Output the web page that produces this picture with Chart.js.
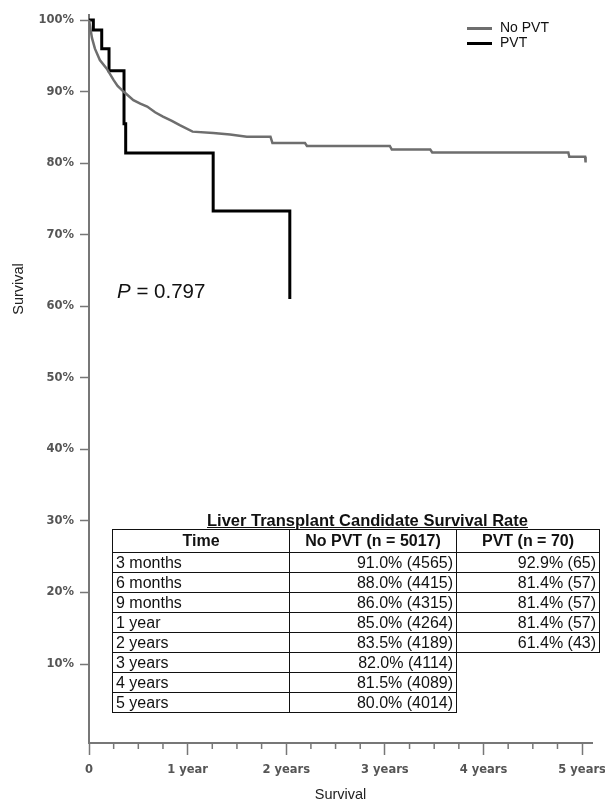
<!DOCTYPE html>
<html>
<head>
<meta charset="utf-8">
<script src="https://cdn.jsdelivr.net/npm/chart.js@4"></script>
<style>
  body { margin: 0; background: #fff; }
  #wrap { position: relative; width: 605px; height: 807px; }
  .ov { position: absolute; font-family: 'Liberation Sans', Arial, sans-serif; color: #111; white-space: nowrap; }
  #ytitle { left: 18px; top: 289px; font-size: 14.5px; transform: translate(-50%, -50%) rotate(-90deg); color: #222; }
  #legend { left: 467px; top: 20px; font-size: 14px; }
  #legend div { height: 15px; line-height: 15px; }
  #legend span.ln { display: inline-block; width: 25px; height: 3px; vertical-align: middle; margin-right: 8px; }
  #pval { left: 117px; top: 279px; font-size: 20.5px; }
  #ttitle { left: 207px; top: 511px; font-size: 16.5px; font-weight: bold; text-decoration: underline; }
  #tbl { left: 112px; top: 529px; border-collapse: collapse; font-size: 16px; }
  #tbl td, #tbl th { border: 1.5px solid #111; padding: 0 3px; height: 19px; line-height: 17px; }
  #tbl th { height: 21.5px; font-weight: bold; text-align: center; }
  #tbl td.num { text-align: right; }
  #tbl td.none { border: none; }
</style>
</head>
<body>
<div id="wrap">
  <canvas id="km" width="605" height="807"></canvas>
  <div class="ov" id="ytitle">Survival</div>
  <div class="ov" id="legend"></div>
  <div class="ov" id="pval"><i>P</i> = 0.797</div>
  <div class="ov" id="ttitle">Liver Transplant Candidate Survival Rate</div>
  <table class="ov" id="tbl"></table>
</div>
<script>
// survival curves, time in years, survival in %
const noPvtTime = [0, 0.03, 0.06, 0.11, 0.18, 0.25, 0.29, 0.35, 0.45, 0.52, 0.59, 0.67, 0.75, 0.84, 0.92, 1.05, 1.26, 1.43, 1.60, 1.84, 1.86, 2.19, 2.21, 3.05, 3.07, 3.46, 3.48, 4.86, 4.87, 5.03, 5.035];
const noPvtSurv = [100, 97.5, 96.0, 94.4, 93.2, 91.6, 90.8, 90.0, 88.8, 88.3, 87.9, 87.1, 86.5, 85.9, 85.3, 84.4, 84.2, 84.0, 83.7, 83.7, 82.8, 82.8, 82.4, 82.4, 81.9, 81.9, 81.5, 81.5, 80.9, 80.9, 80.1];
const pvtTime = [0, 0.044, 0.129, 0.203, 0.355, 0.372, 1.259, 2.036];
const pvtSurv = [100, 98.6, 96.0, 92.9, 85.5, 81.4, 73.3, 61.0];

const xTickValues = [0, 1, 2, 3, 4, 5];
const xTickLabels = ['0', '1 year', '2 years', '3 years', '4 years', '5 years'];
const yTickValues = [10, 20, 30, 40, 50, 60, 70, 80, 90, 100];
const yTickLabels = ['10%', '20%', '30%', '40%', '50%', '60%', '70%', '80%', '90%', '100%'];

// table
const tableHead = ['Time', 'No PVT (n = 5017)', 'PVT (n = 70)'];
const tableTimes = ['3 months', '6 months', '9 months', '1 year', '2 years', '3 years', '4 years', '5 years'];
const tableNoPvt = ['91.0% (4565)', '88.0% (4415)', '86.0% (4315)', '85.0% (4264)', '83.5% (4189)', '82.0% (4114)', '81.5% (4089)', '80.0% (4014)'];
const tablePvt = ['92.9% (65)', '81.4% (57)', '81.4% (57)', '81.4% (57)', '61.4% (43)'];

const series = [
  {label: 'No PVT', color: '#6e6e6e'},
  {label: 'PVT', color: '#000'}
];

// legend + table html
document.getElementById('legend').innerHTML = series.map(s =>
  '<div><span class="ln" style="background:' + s.color + '"></span>' + s.label + '</div>').join('');

let html = '<tr><th style="width:170px">' + tableHead[0] + '</th><th style="width:160px">' + tableHead[1] + '</th><th style="width:136px">' + tableHead[2] + '</th></tr>';
tableTimes.forEach((t, i) => {
  html += '<tr><td>' + t + '</td><td class="num">' + tableNoPvt[i] + '</td>';
  html += i < tablePvt.length ? '<td class="num">' + tablePvt[i] + '</td>' : '<td class="none"></td>';
  html += '</tr>';
});
document.getElementById('tbl').innerHTML = html;

const tickFont = {family: "'DejaVu Sans', sans-serif", size: 11.5, weight: 'bold'};

const minorTicks = {
  id: 'minorTicks',
  afterDraw(chart) {
    const xs = chart.scales.x, ctx = chart.ctx;
    ctx.save();
    ctx.strokeStyle = '#777';
    ctx.lineWidth = 1.5;
    for (let q = 1; q < 20; q++) {
      if (q % 4 === 0) continue;
      const px = xs.getPixelForValue(q / 4);
      ctx.beginPath();
      ctx.moveTo(px, xs.top);
      ctx.lineTo(px, xs.top + 6);
      ctx.stroke();
    }
    ctx.restore();
  }
};

const data = {
  datasets: [
    {
      label: series[0].label,
      data: noPvtTime.map((t, i) => ({x: t, y: noPvtSurv[i]})),
      borderColor: series[0].color,
      borderWidth: 2.5,
      pointRadius: 0,
      tension: 0
    },
    {
      label: series[1].label,
      data: pvtTime.map((t, i) => ({x: t, y: pvtSurv[i]})),
      borderColor: series[1].color,
      borderWidth: 3,
      pointRadius: 0,
      stepped: 'before',
      borderJoinStyle: 'miter'
    }
  ]
};

const config = {
  type: 'line',
  data: data,
  plugins: [minorTicks],
  options: {
    responsive: false,
    animation: false,
    layout: {padding: {left: 0, right: 13, top: 15, bottom: 0}},
    plugins: {
      legend: {display: false},
      tooltip: {enabled: false}
    },
    scales: {
      x: {
        type: 'linear',
        min: 0,
        max: 5.1,
        afterBuildTicks: s => { s.ticks = xTickValues.map(v => ({value: v})); },
        afterFit: s => { s.paddingLeft = 0; s.paddingRight = 0; s.height = 64; },
        ticks: {
          callback: (v, i) => xTickLabels[i],
          font: tickFont,
          color: '#555',
          padding: 8,
          maxRotation: 0,
          autoSkip: false
        },
        grid: {drawOnChartArea: false, tickLength: 12, tickColor: '#777', tickWidth: 1.5},
        border: {color: '#777', width: 2},
        title: {
          display: true,
          text: 'Survival',
          color: '#222',
          font: {family: "'Liberation Sans', Arial, sans-serif", size: 14.5},
          padding: {top: 3, bottom: 3}
        }
      },
      y: {
        min: -1.04,
        max: 100.7,
        afterBuildTicks: s => { s.ticks = yTickValues.map(v => ({value: v})); },
        afterFit: s => { s.width = 89; s.paddingTop = 0; s.paddingBottom = 0; },
        ticks: {
          callback: (v, i) => yTickLabels[i],
          font: tickFont,
          color: '#555',
          padding: 6
        },
        grid: {drawOnChartArea: false, tickLength: 9, tickColor: '#777', tickWidth: 1.5},
        border: {color: '#777', width: 2}
      }
    }
  }
};

const ctx = document.getElementById('km');
new Chart(ctx, config);
</script>
</body>
</html>
